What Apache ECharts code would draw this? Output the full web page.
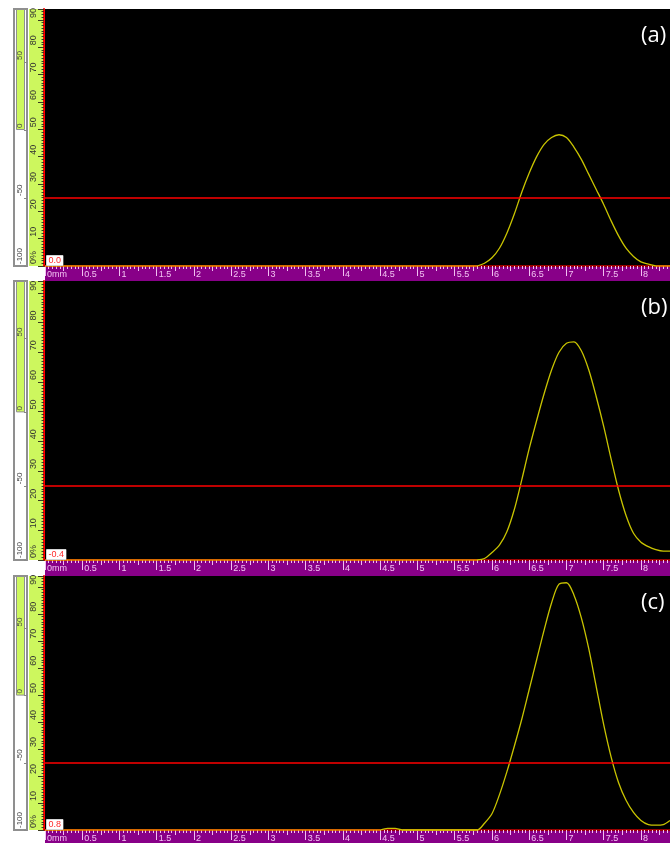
<!DOCTYPE html>
<html>
<head>
<meta charset="utf-8">
<script src="https://cdn.jsdelivr.net/npm/echarts@6/dist/echarts.min.js"></script>
<style>
  html, body { margin: 0; padding: 0; background: #fff; }
  #chart { width: 670px; height: 843px; }
</style>
</head>
<body>
<div id="chart"></div>
<script>
// Sample positions along the sound path (mm)
const positionsMm = [0, 4.5, 4.6, 4.7, 4.8, 5.7, 5.8, 5.9, 6.0, 6.1, 6.2, 6.3, 6.4, 6.5, 6.6, 6.7, 6.8,
  6.9, 7.0, 7.1, 7.2, 7.3, 7.4, 7.5, 7.6, 7.7, 7.8, 7.9, 8.0, 8.1, 8.2, 8.3, 8.39];

// Echo amplitude (% full screen height) for each A-scan
const amplitudeA = [0, 0, 0, 0, 0, 0, 0, 1.0, 3.0, 6.5, 12, 19, 27, 34, 40, 44.5, 47,
  48, 47, 43.5, 39, 33.5, 28, 22.5, 16.5, 11, 6.5, 3.5, 1.5, 0.7, 0, 0, 0];
const amplitudeB = [0, 0, 0, 0, 0, 0, 0, 0.5, 2.5, 5, 9.5, 17, 27, 37.5, 47, 56, 64,
  70, 73, 73.5, 70.5, 64, 55, 45, 34, 23.5, 15, 9, 6, 4.5, 3.5, 3, 3];
const amplitudeC = [0, 0, 0.6, 0.6, 0, 0, 0, 2.5, 6, 13, 21.5, 31, 41, 52, 63, 74, 84,
  91, 91.5, 87, 78.5, 67, 53, 39, 27, 17.5, 11, 6.5, 3.5, 2, 1.8, 2, 3.5];

const gateLevel = 25;                       // gate threshold, %
const gainValue = 89;                       // gain indicator reading
const offsetLabels = ['0.0', '-0.4', '0.8'];
const panelTags = ['(a)', '(b)', '(c)'];
const rangeMm = [0, 8.39];
const rangeAmp = [0, 94];
const rangeGain = [-100, 89];

const amplitudes = [amplitudeA, amplitudeB, amplitudeC];

const layout = [
  { top: 9,   height: 257, scaleH: 15 },
  { top: 281, height: 279, scaleH: 16 },
  { top: 576, height: 254, scaleH: 14 }
];

const GREEN = '#cdf75e';
const PURPLE = '#880088';
const PINK = '#f2c0f2';
const FONT = '"Liberation Sans", Arial, sans-serif';

const grid = [], xAxis = [], yAxis = [], series = [], graphic = [];

function addGrid(g) { grid.push(g); return grid.length - 1; }
function addX(a) { xAxis.push(a); return xAxis.length - 1; }
function addY(a) { yAxis.push(a); return yAxis.length - 1; }

layout.forEach((p, i) => {
  const base = p.top + p.height;

  // plot area
  const gPlot = addGrid({ left: 45, width: 625, top: p.top, height: p.height, show: true, backgroundColor: '#000', borderWidth: 0 });
  // distance scale (major + minor ticks, labels)
  const gScale = addGrid({ left: 45, width: 625, top: base, height: p.scaleH, show: true, backgroundColor: PURPLE, borderWidth: 0 });
  // distance scale half-step ticks
  const gScale2 = addGrid({ left: 45, width: 625, top: base, height: p.scaleH, show: false });
  // amplitude ruler
  const gRuler = addGrid({ left: 29, width: 15, top: p.top, height: p.height, show: true, backgroundColor: GREEN, borderWidth: 0 });
  // gain indicator
  const gGain = addGrid({ left: 14, width: 13, top: p.top, height: p.height, show: true, backgroundColor: '#fff', borderColor: '#8f8f8f', borderWidth: 2 });

  const xMain = addX({
    gridIndex: gPlot, type: 'value', min: rangeMm[0], max: rangeMm[1],
    axisLine: { show: true, onZero: false, lineStyle: { color: '#9a0000', width: 2 } },
    axisTick: { show: false }, axisLabel: { show: false }, splitLine: { show: false }
  });
  addX({
    gridIndex: gScale, type: 'value', position: 'top', min: rangeMm[0], max: rangeMm[1], interval: 0.5,
    axisLine: { show: false, onZero: false },
    axisTick: { show: true, inside: true, length: 10, lineStyle: { color: PINK, width: 1 } },
    minorTick: { show: true, splitNumber: 10, length: 3, lineStyle: { color: PINK, width: 1 } },
    axisLabel: {
      inside: true, margin: 4, align: 'left', verticalAlign: 'top', padding: [0, 0, 0, 2],
      color: PINK, fontSize: 9, fontFamily: FONT, showMaxLabel: false,
      formatter: v => (v === 0 ? '0mm' : String(v))
    },
    splitLine: { show: false }
  });
  addX({
    gridIndex: gScale2, type: 'value', position: 'top', min: rangeMm[0], max: rangeMm[1], interval: 0.25,
    axisLine: { show: false, onZero: false },
    axisTick: { show: true, inside: true, length: 5, lineStyle: { color: PINK, width: 1 } },
    axisLabel: { show: false }, splitLine: { show: false }
  });
  addX({ gridIndex: gRuler, type: 'category', data: [''], show: false });
  const xGain = addX({ gridIndex: gGain, type: 'category', data: [''], show: false });

  const yMain = addY({ gridIndex: gPlot, type: 'value', min: rangeAmp[0], max: rangeAmp[1], show: false });
  addY({ gridIndex: gScale, type: 'value', min: 0, max: 1, show: false });
  addY({ gridIndex: gScale2, type: 'value', min: 0, max: 1, show: false });
  addY({
    gridIndex: gRuler, type: 'value', position: 'right', min: rangeAmp[0], max: rangeAmp[1], interval: 10,
    axisLine: { show: true, onZero: false, lineStyle: { color: '#ff0000', width: 2 } },
    axisTick: { show: true, inside: true, length: 6, lineStyle: { color: '#3a3a20' } },
    minorTick: { show: true, splitNumber: 10, length: 2.5, lineStyle: { color: '#3a3a20' } },
    axisLabel: {
      inside: true, rotate: 90, margin: 10, align: 'left', verticalAlign: 'middle',
      fontSize: 9, fontFamily: FONT, color: '#333', showMaxLabel: false, padding: [0, 0, 0, 2],
      formatter: v => (v === 0 ? '0%' : String(v))
    },
    splitLine: { show: false }
  });
  const yGain = addY({
    gridIndex: gGain, type: 'value', position: 'right', min: rangeGain[0], max: rangeGain[1], interval: 50,
    z: 10,
    axisLine: { show: false, onZero: false },
    axisTick: { show: true, inside: true, length: 3, lineStyle: { color: '#888' } },
    axisLabel: {
      inside: true, rotate: 90, margin: 7, align: 'left', verticalAlign: 'middle',
      fontSize: 8, fontFamily: FONT, color: '#444', showMaxLabel: false, padding: [0, 0, 0, 2]
    },
    splitLine: { show: false }
  });

  const amp = amplitudes[i];

  // flat part of the trace that lies on the baseline
  series.push({
    type: 'line', xAxisIndex: xMain, yAxisIndex: yMain,
    data: positionsMm.map((x, k) => [x, amp[k] === 0 ? 0 : '-']),
    showSymbol: false, clip: false, z: 3, silent: true,
    lineStyle: { width: 1.6, color: '#e98b00' }
  });
  // echo trace
  series.push({
    type: 'line', xAxisIndex: xMain, yAxisIndex: yMain,
    data: positionsMm.map((x, k) => [x, amp[k]]).filter((d, k) =>
      amp[k] !== 0 || (amp[k - 1] || 0) !== 0 || (amp[k + 1] || 0) !== 0),
    showSymbol: false, smooth: 0.3, clip: false, z: 4, silent: true,
    lineStyle: { width: 1.3, color: '#c9c400' },
    markLine: {
      silent: true, symbol: 'none', label: { show: false },
      lineStyle: { color: '#ff0000', width: 1.5, type: 'solid' },
      data: [{ yAxis: gateLevel }]
    }
  });
  // gain bar
  series.push({
    type: 'bar', xAxisIndex: xGain, yAxisIndex: yGain, data: [gainValue],
    barWidth: 9, silent: true, z: 1,
    itemStyle: { color: GREEN, borderColor: '#8f8f8f', borderWidth: 1 }
  });

  graphic.push({
    type: 'text', left: 46, top: base - 11, z: 100,
    style: {
      text: offsetLabels[i], fill: '#ff2a2a', font: '9px ' + FONT,
      backgroundColor: '#fff', padding: [1, 2, 0, 2], borderColor: '#aaa', borderWidth: 0.5
    }
  });
  graphic.push({
    type: 'text', left: 641, top: p.top + 16, z: 100,
    style: { text: panelTags[i], fill: '#fff', font: '22px "Open Sans", sans-serif' }
  });
});

const chart = echarts.init(document.getElementById('chart'), null, { renderer: 'canvas' });
chart.setOption({
  backgroundColor: '#fff',
  animation: false,
  grid, xAxis, yAxis, series, graphic
});
</script>
</body>
</html>
